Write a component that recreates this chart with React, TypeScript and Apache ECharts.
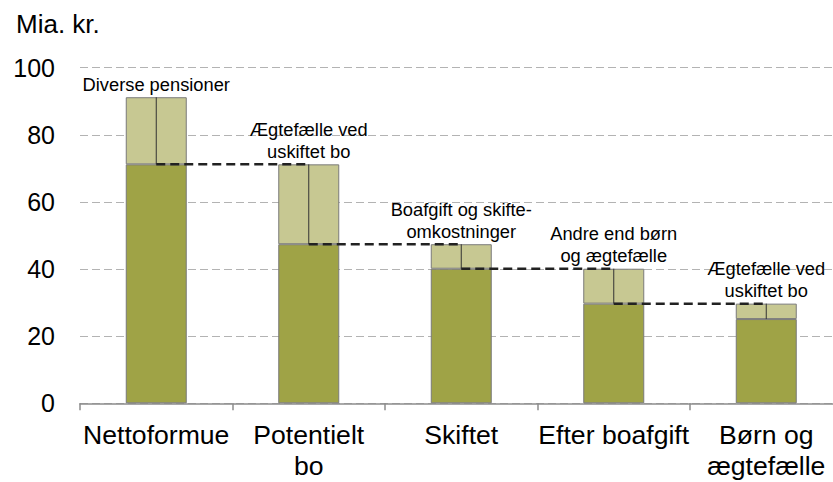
import React, { useEffect, useRef } from "react";
import * as echarts from "echarts";

const categories = ["Nettoformue", "Potentielt\nbo", "Skiftet", "Efter boafgift", "Børn og\nægtefælle"];
const baseValues = [71.2, 47.4, 40.1, 29.7, 25.1];
const totalValues = [91.2, 71.2, 47.4, 40.1, 29.7];
const annotations = [
  "Diverse pensioner",
  "Ægtefælle ved\nuskiftet bo",
  "Boafgift og skifte-\nomkostninger",
  "Andre end børn\nog ægtefælle",
  "Ægtefælle ved\nuskiftet bo",
];
const yTicks = { min: 0, max: 100, interval: 20 };

const FONT = "'Liberation Sans', Arial, sans-serif";

export default function App() {
  const ref = useRef<HTMLDivElement>(null);
  useEffect(() => {
    if (!ref.current) return;
    const chart = echarts.init(ref.current, null, { renderer: "svg" });
    const diffs = totalValues.map((t, i) => +(t - baseValues[i]).toFixed(2));
    const n = categories.length;
    chart.setOption({
      animation: false,
      textStyle: { fontFamily: FONT },
      title: {
        text: "Mia. kr.",
        left: 11,
        top: 6,
        textStyle: { fontFamily: FONT, fontSize: 26, fontWeight: "normal", color: "#000" },
      },
      grid: {
        left: 80,
        top: 67.7,
        right: -9.5,
        bottom: 78.7,
        containLabel: false,
        outerBoundsMode: "none",
      },
      xAxis: {
        type: "category",
        data: categories,
        axisLine: { show: true, lineStyle: { color: "#8c8c8c", width: 1.5 } },
        axisTick: { show: true, length: 7, lineStyle: { color: "#8c8c8c", width: 1.5 } },
        axisLabel: {
          interval: 0,
          margin: 16,
          color: "#000",
          fontSize: 26.6,
          lineHeight: 31,
          fontFamily: FONT,
        },
      },
      yAxis: {
        type: "value",
        min: yTicks.min,
        max: yTicks.max,
        interval: yTicks.interval,
        axisLine: { show: false },
        axisTick: { show: false },
        axisLabel: { color: "#000", fontSize: 25, margin: 25, fontFamily: FONT },
        splitLine: { lineStyle: { color: "#b3b3b3", type: [8, 4], width: 1 } },
      },
      series: [
        {
          type: "bar",
          stack: "a",
          barWidth: "40%",
          data: baseValues,
          itemStyle: { color: "#9fa346", borderColor: "#7a7a7a", borderWidth: 1 },
        },
        {
          type: "bar",
          stack: "a",
          barWidth: "40%",
          data: diffs,
          itemStyle: { color: "#c7c892", borderColor: "#7a7a7a", borderWidth: 1 },
          label: {
            show: true,
            position: "top",
            distance: 2,
            formatter: (p: any) => annotations[p.dataIndex],
            color: "#000",
            fontSize: 18.3,
            lineHeight: 22,
            fontFamily: FONT,
            align: "center",
          },
        },
        {
          type: "custom",
          z: 5,
          data: baseValues.map((b, i) => [i, b, totalValues[i]]),
          renderItem: (params: any, api: any) => {
            const i = api.value(0);
            const p0 = api.coord([i, api.value(1)]);
            const p1 = api.coord([i, api.value(2)]);
            const children: any[] = [
              {
                type: "line",
                shape: { x1: p0[0], y1: p0[1], x2: p1[0], y2: p1[1] },
                style: { stroke: "#333", lineWidth: 1 },
              },
            ];
            if (i < n - 1) {
              const p2 = api.coord([i + 1, api.value(1)]);
              children.push({
                type: "line",
                shape: { x1: p0[0], y1: p0[1], x2: p2[0], y2: p2[1] },
                style: { stroke: "#222", lineWidth: 2.5, lineDash: [9, 5] },
              });
            }
            return { type: "group", children };
          },
        },
      ],
    });
    return () => chart.dispose();
  }, []);
  return (
    <div
      ref={ref}
      style={{ position: "absolute", left: 0, top: 0, width: 833, height: 482 }}
    />
  );
}
